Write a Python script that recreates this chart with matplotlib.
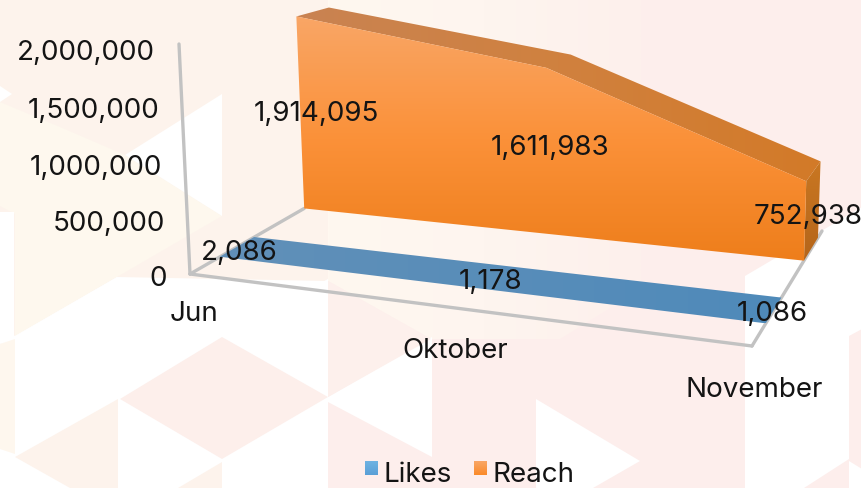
import matplotlib
matplotlib.use("Agg")
import matplotlib.pyplot as plt
import numpy as np
from matplotlib.colors import LinearSegmentedColormap
from matplotlib.patches import Polygon

months = ["Jun", "Oktober", "November"]
likes = [2086, 1178, 1086]
reach = [1914095, 1611983, 752938]
value_ticks = [0, 500000, 1000000, 1500000, 2000000]
series_names = ["Likes", "Reach"]

W, H = 862, 489
FONT = "Inter"
FS = 20
INK = "#141414"

# pixel corners of the chart floor, (t, d) = (0,0) (1,0) (1,1) (0,1)
floor_px = np.array([[190, 275], [752, 347], [822, 232], [345, 186]], float)
# screen vector for one million at the same corners
up_px = np.array([[-5.5, -115], [2, -118], [3.5, -100], [-3.5, -94]], float)
likes_depth = (0.165, 0.37)
reach_depth = (0.70, 0.93)
# where the categories sit along the floor
cat_pos = [0, 0.52, 1]


def make_homography(dst):
    src = [(0, 0), (1, 0), (1, 1), (0, 1)]
    A, b = [], []
    for (u, v), (x, y) in zip(src, dst):
        A.append([u, v, 1, 0, 0, 0, -u * x, -v * x])
        A.append([0, 0, 0, u, v, 1, -u * y, -v * y])
        b += [x, y]
    return np.append(np.linalg.solve(np.array(A), np.array(b)), 1).reshape(3, 3)


HOMOG = make_homography(floor_px)


def proj(t, d, val=0.0):
    p = HOMOG @ np.array([t, d, 1.0])
    base = p[:2] / p[2]
    up = (up_px[0] * (1 - t) * (1 - d) + up_px[1] * t * (1 - d)
          + up_px[2] * t * d + up_px[3] * (1 - t) * d)
    return base + up * val / 1e6


def gradient_fill(ax, verts, colors, horizontal=False, zorder=3):
    verts = np.array(verts)
    x0, y0 = verts.min(axis=0)
    x1, y1 = verts.max(axis=0)
    cmap = LinearSegmentedColormap.from_list("g", colors)
    ramp = np.linspace(0, 1, 256)
    img = ramp[None, :] if horizontal else ramp[:, None]
    im = ax.imshow(img, cmap=cmap, extent=(x0, x1, y1, y0), aspect="auto",
                   origin="upper", zorder=zorder, interpolation="bilinear")
    clip = Polygon(verts, closed=True, transform=ax.transData, fc="none", ec="none")
    ax.add_patch(clip)
    im.set_clip_path(clip)


def draw_background(ax):
    ax.add_patch(Polygon([(0, 0), (328, 0), (328, 282), (117, 278), (0, 345)], fc="#FDF3EC", ec="none", zorder=0))
    ax.add_patch(Polygon([(0, 103), (60, 128), (125, 156), (222, 217), (117, 278), (15, 337), (15, 215), (0, 207)],
                         fc="#FEF8EE", ec="none", zorder=0))
    ax.add_patch(Polygon([(328, 0), (862, 0), (862, 489), (328, 489)], fc="#FDEEEC", ec="none", zorder=0))
    gradient_fill(ax, [(328, 0), (641, 0), (641, 290), (560, 340), (431, 340), (328, 282)],
                  ["#FFF8F0", "#FEF5EF", "#FDF0EC"], horizontal=True, zorder=0.1)
    whites = [
        [(0, 87), (12, 95), (0, 103)],
        [(222, 95), (222, 217), (125, 156)],
        [(0, 213), (14, 213), (14, 340), (0, 345)],
        [(15, 337), (117, 278), (222, 338), (120, 400), (15, 458)],
        [(222, 338), (328, 280), (328, 398), (222, 460)],
        [(118, 401), (222, 460), (178, 489), (118, 489)],
        [(222, 460), (328, 398), (328, 489), (222, 489)],
        [(328, 398), (432, 338), (432, 458), (328, 403)],
        [(536, 400), (640, 462), (593, 489), (536, 489)],
        [(745, 277), (862, 208), (862, 330), (849, 337), (849, 460), (804, 489), (745, 489)],
        [(0, 460), (15, 458), (70, 489), (0, 489)],
        [(849, 462), (862, 470), (862, 489), (849, 489)],
    ]
    for w in whites:
        ax.add_patch(Polygon(w, fc="white", ec="none", zorder=0.5))
    ax.add_patch(Polygon([(120, 400), (222, 338), (328, 398), (222, 460)], fc="#FDEFEB", ec="none", zorder=0.6))
    ax.add_patch(Polygon([(328, 282), (431, 340), (328, 398)], fc="#FDF0EC", ec="none", zorder=0.6))
    ax.add_patch(Polygon([(15, 458), (118, 400), (118, 489), (70, 489)], fc="#FDF3EC", ec="none", zorder=0.6))
    ax.add_patch(Polygon([(0, 345), (15, 340), (15, 455), (0, 450)], fc="#FEF7EE", ec="none", zorder=0.6))
    ax.add_patch(Polygon([(222, 463), (178, 489), (222, 489)], fc="#FDF3EC", ec="none", zorder=0.6))


fig = plt.figure(figsize=(W / 100, H / 100), dpi=100)
ax = fig.add_axes([0, 0, 1, 1])
draw_background(ax)

# axis lines
axis_color = "#C2C2C2"
line_pts = [[proj(0, 0, value_ticks[-1]), proj(0, 0)],
            [proj(0, 0), proj(1, 0)],
            [proj(1, 0), proj(1, 1)],
            [proj(0, 0), proj(0, reach_depth[0])]]
for a, b in line_pts:
    ax.plot([a[0], b[0]], [a[1], b[1]], color=axis_color, lw=2.4, zorder=1, solid_capstyle="round")

# likes strip, only the top face shows at this scale
ts = np.array(cat_pos)
d0, d1 = likes_depth
strip = [proj(t, d0, v) for t, v in zip(ts, likes)] + [proj(t, d1, v) for t, v in zip(ts[::-1], likes[::-1])]
gradient_fill(ax, strip, ["#6190B8", "#4F8ABA"], horizontal=True, zorder=2)

# reach block
d0, d1 = reach_depth
top = [proj(t, d0, v) for t, v in zip(ts, reach)] + [proj(t, d1, v) for t, v in zip(ts[::-1], reach[::-1])]
gradient_fill(ax, top, ["#C98352", "#D0813F", "#D37A28"], horizontal=True, zorder=3)
side = [proj(1, d0), proj(1, d1), proj(1, d1, reach[-1]), proj(1, d0, reach[-1])]
gradient_fill(ax, side, ["#C97722", "#B5651A"], zorder=3)
front = [proj(t, d0) for t in ts[::-1]] + [proj(t, d0, v) for t, v in zip(ts, reach)]
gradient_fill(ax, front, ["#F9A666", "#FB9139", "#EE7E1B"], zorder=4)

# tick labels
tick_right = [167, 165, 162, 159, 155]
tick_y = [276, 221, 165, 108, 50]
for v, x, y in zip(value_ticks, tick_right, tick_y):
    ax.text(x, y, f"{v:,}", ha="right", va="center_baseline", fontsize=FS, family=FONT, color=INK, zorder=6)

cat_xy = [(194, 311), (455, 348), (754, 387)]
for name, (x, y) in zip(months, cat_xy):
    ax.text(x, y, name, ha="center", va="center_baseline", fontsize=FS, family=FONT, color=INK, zorder=6)

likes_xy = [(239, 250), (491, 279), (772, 311)]
reach_xy = [(316, 111), (550, 145), (808, 214)]
for vals, xy in ((likes, likes_xy), (reach, reach_xy)):
    for v, (x, y) in zip(vals, xy):
        ax.text(x, y, f"{v:,}", ha="center", va="center_baseline", fontsize=FS, family=FONT, color=INK, zorder=6)

# legend
swatches = [((365, 462), ["#6FB3E3", "#5A9FD6"], 384), ((474, 462), ["#F9A666", "#FB8A28"], 493)]
for name, ((x, y), cols, tx) in zip(series_names, swatches):
    gradient_fill(ax, [(x, y), (x + 13.5, y), (x + 13.5, y + 14), (x, y + 14)], cols, zorder=5)
    ax.text(tx, 472, name, ha="left", va="center_baseline", fontsize=FS, family=FONT, color=INK, zorder=6)

ax.set_xlim(0, W)
ax.set_ylim(H, 0)
ax.axis("off")
fig.savefig("out.png", dpi=100)
